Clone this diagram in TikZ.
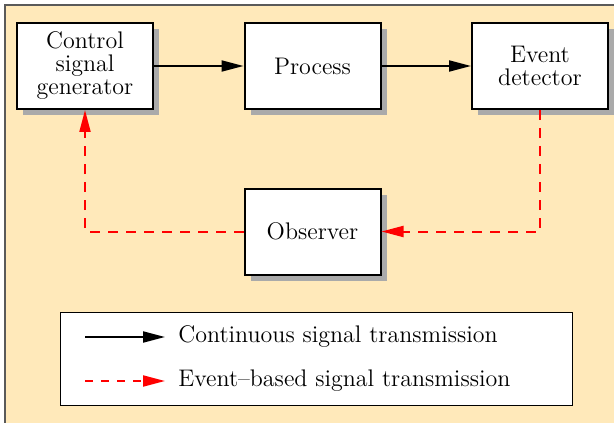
\documentclass[tikz,border=0pt]{standalone}
\usetikzlibrary{arrows.meta,shadows}
\definecolor{bgcolor}{RGB}{255,233,186}
\definecolor{framecolor}{RGB}{90,90,90}
\definecolor{shadowcolor}{RGB}{170,170,170}
\tikzset{
  block/.style={draw, line width=1pt, fill=white, minimum width=68pt, minimum height=43pt,
    align=center, font={\large\baselineskip=11.5pt},
    drop shadow={shadow xshift=3pt, shadow yshift=-3pt, fill=shadowcolor, opacity=1}},
  cont/.style={line width=1pt, -{Triangle[length=11pt,width=5.5pt]}},
  event/.style={red, line width=1pt, dash pattern=on 5pt off 4pt, -{Triangle[length=11pt,width=5.5pt]}},
}
\begin{document}
\begin{tikzpicture}[x=0.5pt, y=-0.5pt]
      \useasboundingbox (0,0) rectangle (614,422);
      \draw[fill=bgcolor, draw=framecolor, line width=1pt] (5,5) rectangle (630,440);
      \draw
        (85,66) node[block] (gen){Control\\signal\\generator}
        (312.5,66) node[block] (proc){Process}
        (540,66) node[block] (det){Event\\detector}
        (312.5,231.5) node[block] (obs){Observer};
      \begin{scope}[cont]
        \draw (gen) to (proc);
        \draw (proc) to (det);
      \end{scope}
      \begin{scope}[event]
        \draw (det.south) |- (obs.east);
        \draw (obs.west) -| (gen.south);
      \end{scope}
      % legend
      \draw[line width=0.5pt, fill=white] (60,312) rectangle (572,405);
      \coordinate (c1) at (85,337);
      \coordinate (c2) at (165,337);
      \coordinate (e1) at (85,381);
      \coordinate (e2) at (165,381);
      \draw[cont] (c1) to (c2);
      \draw[event, dash pattern=on 4pt off 4pt] (e1) to (e2);
      \node[anchor=west, inner sep=0pt, font=\large] (conttext) at (178,337) {Continuous signal transmission};
      \node[anchor=west, inner sep=0pt, font=\large] (eventtext) at (178,381) {Event--based signal transmission};
    \end{tikzpicture}
\end{document}
